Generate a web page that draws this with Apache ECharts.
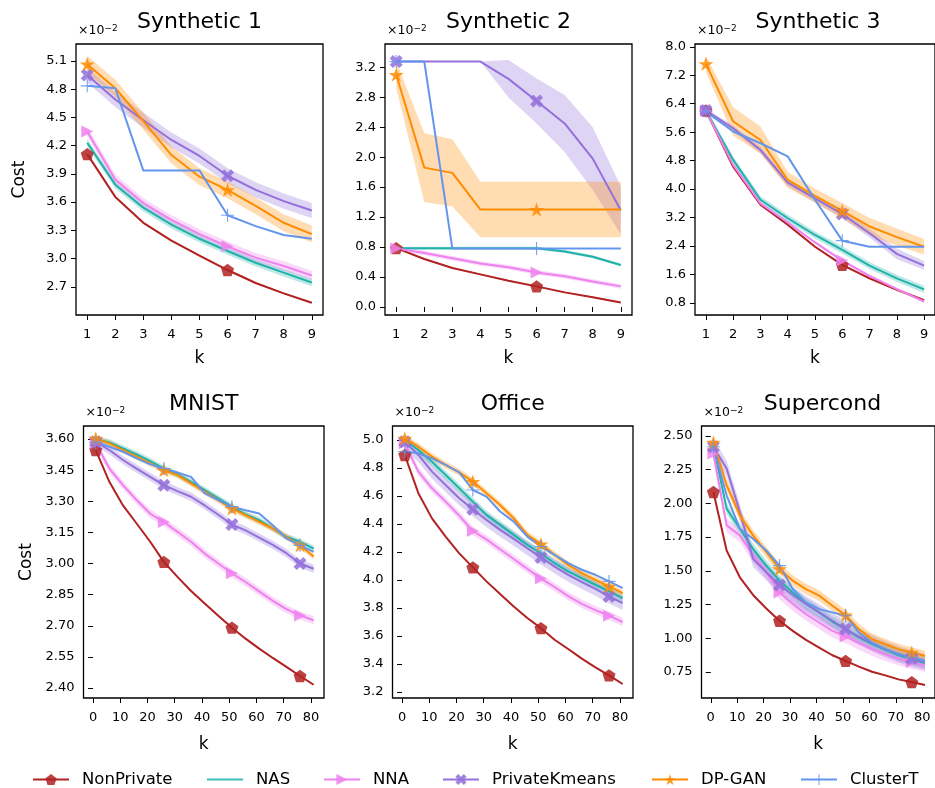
<!DOCTYPE html>
<html><head><meta charset="utf-8">
<script src="https://cdn.jsdelivr.net/npm/echarts@6/dist/echarts.min.js"></script>
<style>html,body{margin:0;padding:0;background:#fff}#c{width:935px;height:788px}</style>
</head><body><div id="c"></div>
<script>
// ---------------- DATA ----------------
const seriesNames = ['NonPrivate', 'NAS', 'NNA', 'PrivateKmeans', 'DP-GAN', 'ClusterT'];
const kTop = [1, 2, 3, 4, 5, 6, 7, 8, 9];
const kBottom = [1, 6, 11, 16, 21, 26, 31, 36, 41, 46, 51, 56, 61, 66, 71, 76, 81];
const xTicksTop = [1, 2, 3, 4, 5, 6, 7, 8, 9];
const xTicksBottom = [0, 10, 20, 30, 40, 50, 60, 70, 80];

// Synthetic 1 (x10^-2)
const syn1_NonPrivate = [4.11, 3.655, 3.38, 3.19, 3.03, 2.878, 2.74, 2.63, 2.53];
const syn1_NAS = [4.23, 3.785, 3.54, 3.36, 3.21, 3.08, 2.955, 2.85, 2.745];
const syn1_NNA = [4.35, 3.84, 3.59, 3.41, 3.26, 3.13, 3.01, 2.92, 2.82];
const syn1_PrivateKmeans = [4.95, 4.69, 4.47, 4.26, 4.09, 3.88, 3.73, 3.61, 3.51];
const syn1_DPGAN = [5.065, 4.81, 4.46, 4.10, 3.87, 3.73, 3.56, 3.38, 3.26];
const syn1_ClusterT = [4.835, 4.81, 3.935, 3.935, 3.935, 3.46, 3.345, 3.25, 3.21];
const syn1_spread = [0.01, 0.04, 0.05, 0.08, 0.09, 0];
const syn1_yTicks = [2.7, 3.0, 3.3, 3.6, 3.9, 4.2, 4.5, 4.8, 5.1];

// Synthetic 2
const syn2_NonPrivate = [0.785, 0.64, 0.52, 0.435, 0.35, 0.275, 0.195, 0.13, 0.06];
const syn2_NAS = [0.785, 0.785, 0.785, 0.785, 0.785, 0.785, 0.74, 0.67, 0.56];
const syn2_NNA = [0.78, 0.72, 0.65, 0.58, 0.53, 0.46, 0.41, 0.34, 0.275];
const syn2_PrivateKmeans = [3.275, 3.275, 3.275, 3.275, 3.045, 2.75, 2.45, 1.98, 1.29];
const syn2_DPGAN = [3.10, 1.86, 1.79, 1.30, 1.30, 1.30, 1.30, 1.30, 1.30];
const syn2_ClusterT = [3.275, 3.275, 0.78, 0.78, 0.78, 0.78, 0.78, 0.78, 0.78];
const syn2_PrivateKmeans_spread = [0, 0, 0, 0, 0.25, 0.3, 0.38, 0.42, 0.32];
const syn2_DPGAN_spread = [0.18, 0.46, 0.45, 0.37, 0.37, 0.37, 0.37, 0.37, 0.37];
const syn2_spread = [0.01, 0.02, 0.03, syn2_PrivateKmeans_spread, syn2_DPGAN_spread, 0];
const syn2_yTicks = [0.0, 0.4, 0.8, 1.2, 1.6, 2.0, 2.4, 2.8, 3.2];

// Synthetic 3
const syn3_NonPrivate = [6.21, 4.63, 3.56, 3.0, 2.38, 1.87, 1.49, 1.17, 0.88];
const syn3_NAS = [6.2, 4.82, 3.7, 3.18, 2.71, 2.29, 1.85, 1.49, 1.18];
const syn3_NNA = [6.2, 4.68, 3.6, 3.06, 2.5, 1.99, 1.56, 1.19, 0.84];
const syn3_PrivateKmeans = [6.21, 5.71, 5.10, 4.18, 3.74, 3.30, 2.76, 2.18, 1.85];
const syn3_DPGAN = [7.52, 5.90, 5.38, 4.26, 3.81, 3.39, 2.95, 2.65, 2.38];
const syn3_ClusterT = [6.18, 5.62, 5.29, 4.92, 3.7, 2.55, 2.38, 2.38, 2.38];
const syn3_PrivateKmeans_spread = [0.05, 0.08, 0.1, 0.1, 0.1, 0.12, 0.12, 0.15, 0.12];
const syn3_DPGAN_spread = [0.22, 0.4, 0.38, 0.22, 0.2, 0.22, 0.24, 0.24, 0.22];
const syn3_spread = [0.03, 0.1, 0.04, syn3_PrivateKmeans_spread, syn3_DPGAN_spread, 0];
const syn3_yTicks = [0.8, 1.6, 2.4, 3.2, 4.0, 4.8, 5.6, 6.4, 7.2, 8.0];

// MNIST
const mnist_NonPrivate = [3.547, 3.394, 3.28, 3.193, 3.105, 3.008, 2.936, 2.868, 2.807, 2.748, 2.691, 2.638, 2.59, 2.545, 2.502, 2.458, 2.416];
const mnist_NAS = [3.60, 3.584, 3.555, 3.526, 3.494, 3.458, 3.43, 3.394, 3.354, 3.314, 3.274, 3.237, 3.209, 3.169, 3.129, 3.105, 3.072];
const mnist_NNA = [3.58, 3.458, 3.378, 3.306, 3.24, 3.2, 3.153, 3.105, 3.048, 3.0, 2.953, 2.911, 2.866, 2.82, 2.78, 2.75, 2.727];
const mnist_PrivateKmeans = [3.587, 3.547, 3.499, 3.458, 3.418, 3.378, 3.349, 3.322, 3.28, 3.235, 3.188, 3.16, 3.125, 3.09, 3.05, 3.0, 2.975];
const mnist_DPGAN = [3.603, 3.579, 3.547, 3.515, 3.483, 3.45, 3.426, 3.386, 3.346, 3.306, 3.265, 3.233, 3.201, 3.169, 3.129, 3.088, 3.034];
const mnist_ClusterT = [3.584, 3.563, 3.539, 3.507, 3.478, 3.458, 3.439, 3.418, 3.338, 3.306, 3.274, 3.257, 3.241, 3.185, 3.121, 3.088, 3.056];
const mnist_spread = [0.004, 0.015, 0.02, 0.02, 0.015, 0];
const mnist_yTicks = [2.40, 2.55, 2.70, 2.85, 3.00, 3.15, 3.30, 3.45, 3.60];

// Office
const office_NonPrivate = [4.893, 4.62, 4.44, 4.31, 4.19, 4.09, 3.99, 3.90, 3.81, 3.728, 3.656, 3.573, 3.507, 3.438, 3.376, 3.319, 3.257];
const office_NAS = [5.0, 4.929, 4.845, 4.75, 4.655, 4.56, 4.465, 4.394, 4.322, 4.251, 4.191, 4.12, 4.061, 4.013, 3.966, 3.918, 3.87];
const office_NNA = [4.976, 4.774, 4.655, 4.56, 4.46, 4.35, 4.29, 4.22, 4.15, 4.08, 4.01, 3.95, 3.885, 3.83, 3.785, 3.745, 3.70];
const office_PrivateKmeans = [4.988, 4.893, 4.774, 4.679, 4.584, 4.505, 4.429, 4.358, 4.294, 4.227, 4.161, 4.096, 4.037, 3.985, 3.937, 3.882, 3.835];
const office_DPGAN = [5.012, 4.952, 4.881, 4.822, 4.769, 4.703, 4.62, 4.536, 4.441, 4.322, 4.256, 4.18, 4.108, 4.049, 4.001, 3.954, 3.906];
const office_ClusterT = [4.917, 4.905, 4.869, 4.822, 4.769, 4.643, 4.596, 4.489, 4.417, 4.31, 4.239, 4.18, 4.12, 4.073, 4.037, 3.99, 3.942];
const office_spread = [0.005, 0.03, 0.03, 0.05, 0.025, 0];
const office_yTicks = [3.2, 3.4, 3.6, 3.8, 4.0, 4.2, 4.4, 4.6, 4.8, 5.0];

// Supercond
const supercond_NonPrivate = [2.085, 1.651, 1.452, 1.321, 1.221, 1.13, 1.055, 0.988, 0.931, 0.874, 0.832, 0.79, 0.752, 0.725, 0.695, 0.675, 0.653];
const supercond_NAS = [2.433, 1.961, 1.812, 1.663, 1.539, 1.427, 1.34, 1.254, 1.192, 1.122, 1.068, 1.006, 0.956, 0.914, 0.874, 0.844, 0.815];
const supercond_NNA = [2.37, 1.837, 1.763, 1.614, 1.49, 1.34, 1.254, 1.179, 1.117, 1.055, 1.013, 0.964, 0.919, 0.882, 0.849, 0.824, 0.80];
const supercond_PrivateKmeans = [2.42, 2.259, 1.936, 1.589, 1.49, 1.395, 1.321, 1.254, 1.192, 1.13, 1.068, 1.013, 0.964, 0.919, 0.882, 0.849, 0.824];
const supercond_DPGAN = [2.453, 2.135, 1.912, 1.763, 1.639, 1.514, 1.427, 1.365, 1.316, 1.241, 1.172, 1.068, 0.993, 0.956, 0.919, 0.894, 0.869];
const supercond_ClusterT = [2.42, 2.06, 1.812, 1.738, 1.651, 1.539, 1.365, 1.266, 1.216, 1.192, 1.167, 1.043, 0.969, 0.919, 0.882, 0.857, 0.832];
const supercond_spread = [0.005, 0.04, 0.05, 0.06, 0.04, 0];
const supercond_yTicks = [0.75, 1.00, 1.25, 1.50, 1.75, 2.00, 2.25, 2.50];

// ---------------- CHART DESCRIPTORS ----------------
const charts = [
  {title: 'Synthetic 1', x: kTop, xTicks: xTicksTop, xRange: [0.6, 9.4], yRange: [2.40, 5.28], yTicks: syn1_yTicks, dec: 1,
   lines: [syn1_NonPrivate, syn1_NAS, syn1_NNA, syn1_PrivateKmeans, syn1_DPGAN, syn1_ClusterT], spread: syn1_spread, markers: [0, 5], cost: true},
  {title: 'Synthetic 2', x: kTop, xTicks: xTicksTop, xRange: [0.6, 9.4], yRange: [-0.107, 3.51], yTicks: syn2_yTicks, dec: 1,
   lines: [syn2_NonPrivate, syn2_NAS, syn2_NNA, syn2_PrivateKmeans, syn2_DPGAN, syn2_ClusterT], spread: syn2_spread, markers: [0, 5]},
  {title: 'Synthetic 3', x: kTop, xTicks: xTicksTop, xRange: [0.6, 9.4], yRange: [0.46, 8.08], yTicks: syn3_yTicks, dec: 1,
   lines: [syn3_NonPrivate, syn3_NAS, syn3_NNA, syn3_PrivateKmeans, syn3_DPGAN, syn3_ClusterT], spread: syn3_spread, markers: [0, 5]},
  {title: 'MNIST', x: kBottom, xTicks: xTicksBottom, xRange: [-3.5, 84.8], yRange: [2.352, 3.663], yTicks: mnist_yTicks, dec: 2,
   lines: [mnist_NonPrivate, mnist_NAS, mnist_NNA, mnist_PrivateKmeans, mnist_DPGAN, mnist_ClusterT], spread: mnist_spread, markers: [0, 5, 10, 15], cost: true},
  {title: 'Office', x: kBottom, xTicks: xTicksBottom, xRange: [-3.5, 84.8], yRange: [3.157, 5.10], yTicks: office_yTicks, dec: 1,
   lines: [office_NonPrivate, office_NAS, office_NNA, office_PrivateKmeans, office_DPGAN, office_ClusterT], spread: office_spread, markers: [0, 5, 10, 15]},
  {title: 'Supercond', x: kBottom, xTicks: xTicksBottom, xRange: [-3.5, 84.8], yRange: [0.557, 2.574], yTicks: supercond_yTicks, dec: 2,
   lines: [supercond_NonPrivate, supercond_NAS, supercond_NNA, supercond_PrivateKmeans, supercond_DPGAN, supercond_ClusterT], spread: supercond_spread, markers: [0, 5, 10, 15]}
];

// ---------------- STYLE / LAYOUT ----------------
const FONT = 'DejaVu Sans';
const layouts = [
  {left: 76, top: 44, width: 247, height: 271},
  {left: 385, top: 44, width: 247, height: 271},
  {left: 695, top: 44, width: 246, height: 271},
  {left: 83.5, top: 426, width: 240.5, height: 272},
  {left: 392.5, top: 426, width: 240.5, height: 272},
  {left: 701.5, top: 426, width: 242, height: 272}
];
const colors = ['#b22222', '#20b2aa', '#ee82ee', '#9370db', '#ff8c00', '#6495ed'];
const symPentagon = 'path://M0,-1 L0.951,-0.309 L0.588,0.809 L-0.588,0.809 L-0.951,-0.309 Z';
const symTriRight = 'path://M1,0 L-1,-1 L-1,1 Z';
const symX = 'path://M-1,-0.5 L-0.5,-1 L0,-0.5 L0.5,-1 L1,-0.5 L0.5,0 L1,0.5 L0.5,1 L0,0.5 L-0.5,1 L-1,0.5 L-0.5,0 Z';
const symStar = 'path://M0,-1 L0.2245,-0.309 L0.951,-0.309 L0.363,0.118 L0.588,0.809 L0,0.382 L-0.588,0.809 L-0.363,0.118 L-0.951,-0.309 L-0.2245,-0.309 Z';
const symPlus = 'path://M-1,-0.09 L-0.09,-0.09 L-0.09,-1 L0.09,-1 L0.09,-0.09 L1,-0.09 L1,0.09 L0.09,0.09 L0.09,1 L-0.09,1 L-0.09,0.09 L-1,0.09 Z';
const symbols = [symPentagon, 'none', symTriRight, symX, symStar, symPlus];
const symbolSizes = [13, 0, 12, 13, 15, 13];
const legendLeft = [32, 207, 323, 442, 651, 800];

function rgba(hex, a) {
  const n = parseInt(hex.slice(1), 16);
  return `rgba(${(n >> 16) & 255},${(n >> 8) & 255},${n & 255},${a})`;
}

const grid = [], xAxis = [], yAxis = [], series = [], graphic = [];
charts.forEach((c, ci) => {
  const L = layouts[ci];
  grid.push({left: L.left, top: L.top, width: L.width, height: L.height, show: true,
    borderColor: '#000', borderWidth: 1.3, backgroundColor: 'transparent'});
  xAxis.push({
    gridIndex: ci, type: 'value', min: c.xRange[0], max: c.xRange[1],
    axisLine: {show: false}, splitLine: {show: false},
    axisTick: {show: true, customValues: c.xTicks, length: 5, lineStyle: {color: '#000', width: 1}},
    axisLabel: {customValues: c.xTicks, formatter: v => String(v), color: '#000', fontSize: 13, fontFamily: FONT, margin: 13},
    name: 'k', nameLocation: 'middle', nameGap: ci < 3 ? 35 : 38,
    nameTextStyle: {fontSize: 17, color: '#000', fontFamily: FONT}
  });
  yAxis.push({
    gridIndex: ci, type: 'value', min: c.yRange[0], max: c.yRange[1],
    axisLine: {show: false}, splitLine: {show: false},
    axisTick: {show: true, customValues: c.yTicks, length: 5, lineStyle: {color: '#000', width: 1}},
    axisLabel: {customValues: c.yTicks, formatter: v => v.toFixed(c.dec), color: '#000', fontSize: 13, fontFamily: FONT, margin: 9},
    name: c.cost ? 'Cost' : '', nameLocation: 'middle', nameGap: 48, nameRotate: 90,
    nameTextStyle: {fontSize: 17, color: '#000', fontFamily: FONT}
  });
  graphic.push({type: 'text', x: L.left + L.width / 2, y: L.top - 33, silent: true,
    style: {text: c.title, fill: '#000', font: `22px "${FONT}"`, align: 'center', verticalAlign: 'top'}});
  graphic.push({type: 'text', x: L.left + 2, y: L.top - 7, silent: true,
    style: {text: '{a|×10}{b|−2}', align: 'left', verticalAlign: 'bottom',
      rich: {a: {fontSize: 12.5, fontFamily: FONT, fill: '#000'}, b: {fontSize: 9, fontFamily: FONT, fill: '#000', verticalAlign: 'top'}}}});

  c.lines.forEach((ys, si) => {
    const col = colors[si];
    const sp = c.spread[si];
    const spreadAt = i => Array.isArray(sp) ? sp[i] : sp;
    const hasBand = Array.isArray(sp) ? sp.some(v => v > 0) : sp > 0;
    if (hasBand) {
      const xs = c.x;
      series.push({
        type: 'custom', name: seriesNames[si] + ' band', xAxisIndex: ci, yAxisIndex: ci, silent: true,
        data: xs.map((xv, i) => [xv, ys[i]]),
        encode: {x: 0, y: 1},
        clip: true,
        renderItem: (params, api) => {
          if (params.dataIndex !== 0) return null;
          const pts = [];
          for (let i = 0; i < xs.length; i++) pts.push(api.coord([xs[i], ys[i] + spreadAt(i)]));
          for (let i = xs.length - 1; i >= 0; i--) pts.push(api.coord([xs[i], ys[i] - spreadAt(i)]));
          return {type: 'polygon', shape: {points: pts}, style: {fill: rgba(col, 0.3), stroke: null}};
        }
      });
    }
    series.push({
      type: 'line', name: seriesNames[si], xAxisIndex: ci, yAxisIndex: ci,
      data: c.x.map((xv, i) => c.markers.includes(i) ? [xv, ys[i]] : {value: [xv, ys[i]], symbol: 'none'}),
      symbol: symbols[si], symbolSize: symbolSizes[si], symbolKeepAspect: true, showSymbol: si !== 1,
      lineStyle: {width: 2, color: col}, itemStyle: {color: col, opacity: 0.85},
      emphasis: {disabled: true}
    });
  });
});

const legend = seriesNames.map((n, i) => {
  const base = {
    left: legendLeft[i], top: 771, orient: 'horizontal', padding: 0,
    itemWidth: 36, itemHeight: 14, selectedMode: false,
    textStyle: {fontSize: 16.5, color: '#000', fontFamily: FONT, padding: [0, 0, 0, 8]}
  };
  if (symbols[i] === 'none') {
    base.data = [{name: n, icon: 'rect', itemStyle: {color: colors[i]}}];
    base.itemHeight = 2.2;
  } else {
    base.data = [n];
  }
  return base;
});

const chart = echarts.init(document.getElementById('c'), null, {renderer: 'canvas'});
chart.setOption({
  animation: false, backgroundColor: '#fff',
  grid, xAxis, yAxis, series, legend, graphic
});
</script></body></html>
